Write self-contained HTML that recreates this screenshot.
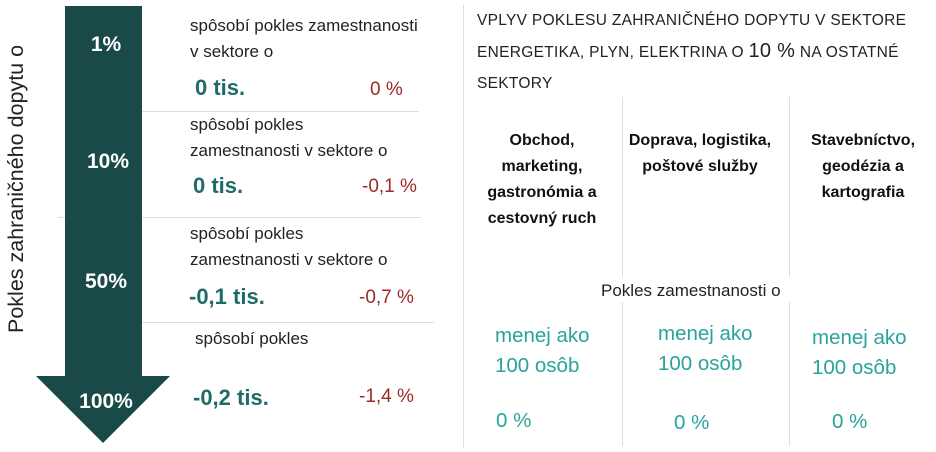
<!DOCTYPE html>
<html><head><meta charset="utf-8"><style>
body{margin:0;width:936px;height:452px;background:#fff;position:relative;overflow:hidden;font-family:"Liberation Sans",sans-serif;}
.t{position:absolute;white-space:nowrap;color:#222;}
.s{font-size:17px;line-height:26px;}
.g{color:#1e6b68;font-weight:bold;font-size:22px;}
.r{color:#9b2a2a;font-size:19px;}
.w{color:#fff;font-weight:bold;font-size:21px;text-align:center;width:100px;}
.c{color:#2aa39c;font-size:20.5px;line-height:30px;}
.h{font-weight:bold;font-size:16px;line-height:26px;text-align:center;color:#111;}
.ln{position:absolute;background:#ddd;}
</style></head><body>
<svg width="936" height="452" style="position:absolute;left:0;top:0">
<polygon points="65,6 142,6 142,376 170,376 103,443 36,376 65,376" fill="#1a4a48"/>
</svg>
<div class="ln" style="left:142px;top:111px;width:277px;height:1px"></div>
<div class="ln" style="left:58px;top:217px;width:7px;height:1px"></div>
<div class="ln" style="left:142px;top:217px;width:279px;height:1px"></div>
<div class="ln" style="left:142px;top:322px;width:292px;height:1px"></div>
<div class="ln" style="left:463px;top:5px;width:1px;height:443px"></div>
<div class="ln" style="left:622px;top:97px;width:1px;height:180px"></div>
<div class="ln" style="left:622px;top:302px;width:1px;height:144px"></div>
<div class="ln" style="left:789px;top:97px;width:1px;height:180px"></div>
<div class="ln" style="left:789px;top:302px;width:1px;height:144px"></div>
<div class="t" style="left:4px;top:333px;transform:rotate(-90deg);transform-origin:0 0;font-size:21.5px;color:#222">Pokles zahraničného dopytu o</div>
<div class="t w" style="left:56px;top:33px">1%</div>
<div class="t w" style="left:58px;top:150px">10%</div>
<div class="t w" style="left:56px;top:270px">50%</div>
<div class="t w" style="left:56px;top:390px">100%</div>
<div class="t s" style="left:190px;top:13px">spôsobí pokles zamestnanosti<br>v sektore o</div>
<div class="t g" style="left:195px;top:75px">0 tis.</div>
<div class="t r" style="left:370px;top:79px">0 %</div>
<div class="t s" style="left:190px;top:112px">spôsobí pokles<br>zamestnanosti v sektore o</div>
<div class="t g" style="left:193px;top:173px">0 tis.</div>
<div class="t r" style="left:362px;top:176px">-0,1 %</div>
<div class="t s" style="left:190px;top:221px">spôsobí pokles<br>zamestnanosti v sektore o</div>
<div class="t g" style="left:189px;top:284px">-0,1 tis.</div>
<div class="t r" style="left:359px;top:287px">-0,7 %</div>
<div class="t s" style="left:195px;top:326px">spôsobí pokles</div>
<div class="t g" style="left:193px;top:385px">-0,2 tis.</div>
<div class="t r" style="left:359px;top:386px">-1,4 %</div>
<div class="t" style="left:477px;top:5px;font-size:15.5px;line-height:31px;color:#222;letter-spacing:0.3px">VPLYV POKLESU ZAHRANIČNÉHO DOPYTU V SEKTORE<br>ENERGETIKA, PLYN, ELEKTRINA O <span style="font-size:20px">10 %</span> NA OSTATNÉ<br>SEKTORY</div>
<div class="t h" style="left:464px;top:128px;width:156px">Obchod,<br>marketing,<br>gastronómia a<br>cestovný ruch</div>
<div class="t h" style="left:618px;top:128px;width:164px">Doprava, logistika,<br>poštové služby</div>
<div class="t h" style="left:790px;top:128px;width:146px">Stavebníctvo,<br>geodézia a<br>kartografia</div>
<div class="t" style="left:601px;top:281px;font-size:17px;color:#222">Pokles zamestnanosti o</div>
<div class="t c" style="left:495px;top:321px">menej ako<br>100 osôb</div>
<div class="t c" style="left:658px;top:319px">menej ako<br>100 osôb</div>
<div class="t c" style="left:812px;top:323px">menej ako<br>100 osôb</div>
<div class="t c" style="left:496px;top:406px">0 %</div>
<div class="t c" style="left:674px;top:408px">0 %</div>
<div class="t c" style="left:832px;top:407px">0 %</div>
</body></html>
